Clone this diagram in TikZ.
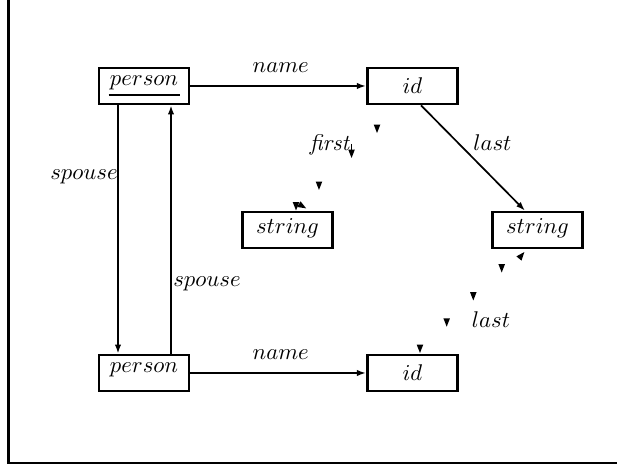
\documentclass[tikz,border=0pt]{standalone}
\usetikzlibrary{arrows.meta,calc}
\begin{document}
\begin{tikzpicture}[x=0.44pt,y=-0.44pt,
  ent/.style={draw, line width=1.1pt, minimum width=39.8pt, minimum height=15.9pt, inner sep=0pt},
  conn/.style={line width=0.75pt, -{Latex[length=4pt,width=2.8pt]}},
  lbl/.style={inner sep=0pt},
  tri/.pic={\fill (-3.3,-4.2) -- (3.3,-4.2) -- (0,4.2) -- cycle;},
  stemtri/.pic={\draw[line width=0.6pt] (0,-10) -- (0,-3); \fill (-3.3,-4.2) -- (3.3,-4.2) -- (0,4.2) -- cycle;},
  ]
\useasboundingbox (0,0) rectangle (617,467);
\draw[line width=1.3pt] (8.5,-2) -- (8.5,463) -- (620,463);

\node[ent] (pt) at (144,86) {\raisebox{1.3pt}[\height][\depth]{$person$}};
\draw[line width=1.2pt] ([shift={(-35.5,9)}]pt.center) -- ([shift={(35.5,9)}]pt.center);
\node[ent] (it) at (412.5,86) {$id$};
\node[ent] (sl) at (287.5,230) {\raisebox{0.7pt}[\height][\depth]{$string$}};
\node[ent] (sr) at (537.5,230) {\raisebox{0.7pt}[\height][\depth]{$string$}};
\node[ent] (pb) at (144,373) {\raisebox{1.3pt}[\height][\depth]{$person$}};
\node[ent] (ib) at (412.5,373) {$id$};

\draw[conn] (pt) -- (it) node[lbl, midway, shift={(2.5,-18)}] {$name$};
\draw[conn] (pb) -- (ib) node[lbl, midway, shift={(2.5,-18)}] {$name$};
\draw[conn] ([shift={(-26,0)}]pt.south) -- ([shift={(-26,0)}]pb.north)
  node[lbl, pos=0.287, shift={(-34,0)}] {$spouse$};
\draw[conn] ([shift={(27,0)}]pb.north) -- ([shift={(27,0)}]pt.south)
  node[lbl, pos=0.283, shift={(36,0)}] {$spouse$};
\draw[conn] ([shift={(8.5,0)}]it.south) -- ([shift={(-12.5,0)}]sr.north)
  node[lbl, pos=0.35, shift={(35,0)}] {$last$};

\path ([shift={(-11.5,0)}]it.south) -- ([shift={(6,0)}]sl.north)
  pic[pos=0.223]{tri} pic[pos=0.46]{stemtri} pic[pos=0.763]{tri}
  pic[pos=0.958, shift={(-2,0)}]{tri}
  pic[pos=0.958, shift={(4.5,0)}, rotate=60]{tri}
  node[lbl, pos=0.3, shift={(-38.75,7.75)}] {\textit{first}};

\path ([shift={(2.5,0)}]ib.north) -- ([shift={(-16.5,0)}]sr.south)
  pic[pos=0.047]{tri} pic[pos=0.299]{tri} pic[pos=0.55]{tri} pic[pos=0.818]{tri}
  pic[pos=0.943, shift={(6.7,0)}, rotate=140]{tri}
  node[lbl, pos=0.4, shift={(33.6,7.4)}] {$last$};
\end{tikzpicture}
\end{document}
